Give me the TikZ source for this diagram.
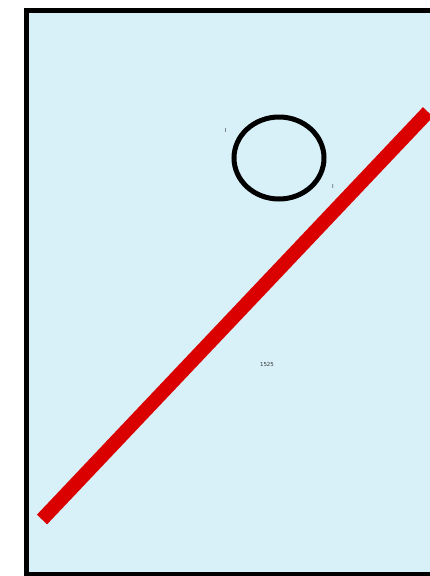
\documentclass[tikz,border=0pt]{standalone}
\usepackage{fontspec}
\setmainfont{DejaVu Sans}
\begin{document}
\begin{tikzpicture}[x=1pt,y=-1pt,
  lbl/.style={inner sep=0pt,font=\fontsize{5.5}{6}\selectfont,text=black!80}]
\useasboundingbox (0,0) rectangle (430,576);
\clip (0,0) rectangle (430,576);
\draw[line width=5pt,fill={rgb,255:red,216;green,241;blue,248}] (26.5,10.5) rectangle (445,574.5);
\draw[line width=5pt] (279,158) ellipse [x radius=45,y radius=41];
\coordinate (a) at (42,519.5);
\coordinate (b) at (428,112);
\draw[line width=14pt,color={rgb,255:red,218;green,0;blue,0}] (a) -- (b);
\node[lbl] (t1) at (225.5,130) {I};
\node[lbl] (t2) at (333,186) {I};
\node[lbl] (t3) at (267,364.5) {1525};
\end{tikzpicture}
\end{document}
